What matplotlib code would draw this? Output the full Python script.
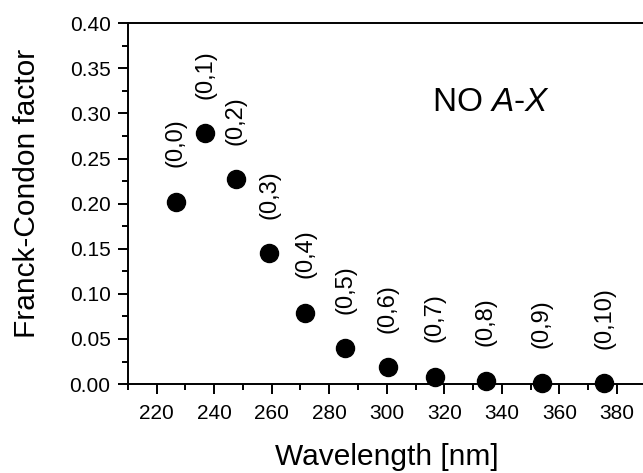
import numpy as np
import matplotlib
matplotlib.use('Agg')
import matplotlib.pyplot as plt
from matplotlib.ticker import MultipleLocator, FormatStrFormatter

plt.rcParams['font.family'] = ['Liberation Sans', 'DejaVu Sans']
plt.rcParams['mathtext.fontset'] = 'custom'
plt.rcParams['mathtext.rm'] = 'Liberation Sans'
plt.rcParams['mathtext.it'] = 'Liberation Sans:italic'

# band positions (nm) and Franck-Condon factors, NO A-X (0,v'')
wavelength = [226.6, 236.8, 247.5, 259.2, 271.6, 285.6, 300.4, 316.6, 334.5, 353.9, 375.6]
fcf = [0.202, 0.278, 0.227, 0.145, 0.079, 0.0395, 0.0185, 0.0081, 0.0037, 0.0015, 0.0008]
bands = ["(0,0)", "(0,1)", "(0,2)", "(0,3)", "(0,4)", "(0,5)",
         "(0,6)", "(0,7)", "(0,8)", "(0,9)", "(0,10)"]

fig = plt.figure(figsize=(6.43, 4.73), dpi=100)
ax = fig.add_axes([0.199, 0.188, 0.805, 0.763])

ax.plot(wavelength, fcf, "o", color="black", markersize=13, clip_on=False, zorder=3)

for x, y, lab in zip(wavelength, fcf, bands):
    ax.annotate(lab, (x, y), xytext=(0, 25), textcoords="offset points",
                rotation=90, ha="center", va="bottom", fontsize=17)

ax.text(315.8, 0.303, r"NO $\it{A}$-$\it{X}$", fontsize=24, ha="left", va="baseline")

ax.set_xlim(210, 390)
ax.set_ylim(0, 0.40)
ax.xaxis.set_major_locator(MultipleLocator(20))
ax.xaxis.set_minor_locator(MultipleLocator(10))
ax.yaxis.set_major_locator(MultipleLocator(0.05))
ax.yaxis.set_minor_locator(MultipleLocator(0.025))
ax.yaxis.set_major_formatter(FormatStrFormatter("%.2f"))
ax.set_xticks([220, 240, 260, 280, 300, 320, 340, 360, 380])

ax.tick_params(which="both", direction="out", width=1.4, top=False, right=False)
ax.tick_params(which="major", length=7.5, labelsize=15)
ax.tick_params(axis="x", which="major", pad=7)
ax.tick_params(axis="y", which="major", pad=5)
ax.tick_params(which="minor", length=4.5)
for s in ["left", "top", "bottom"]:
    ax.spines[s].set_linewidth(1.4)
ax.spines["right"].set_visible(False)

ax.set_xlabel("Wavelength [nm]", fontsize=21.5)
ax.set_ylabel("Franck-Condon factor", fontsize=21.5)
ax.xaxis.set_label_coords(0.5, -0.164)
ax.yaxis.set_label_coords(-0.168, 0.528)

fig.savefig("out.png", dpi=100)
